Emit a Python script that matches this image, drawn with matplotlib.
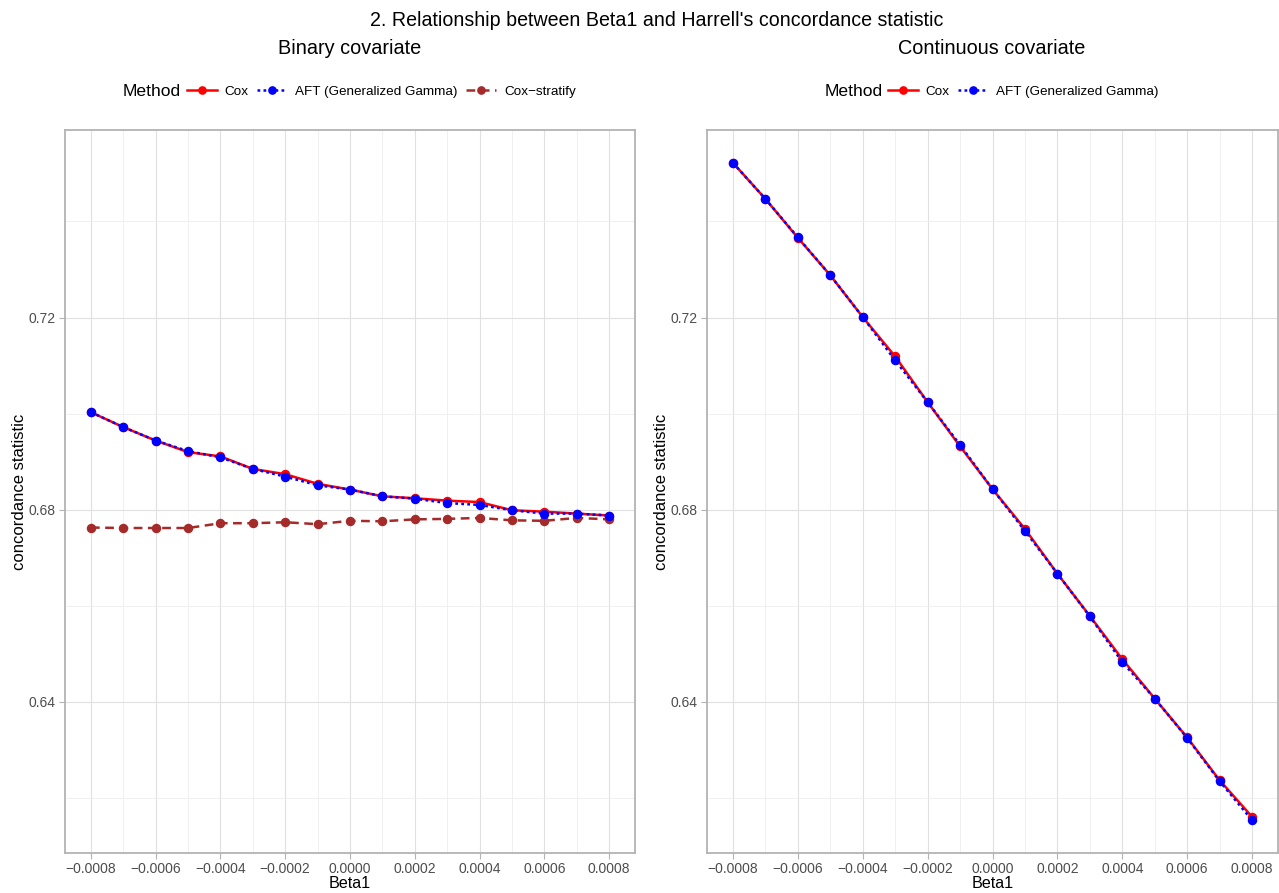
import matplotlib
matplotlib.use("Agg")
import matplotlib.pyplot as plt
from matplotlib.lines import Line2D
import numpy as np

plt.rcParams['font.family'] = ['Liberation Sans', 'DejaVu Sans']

beta1 = [-0.0008, -0.0007, -0.0006, -0.0005, -0.0004, -0.0003, -0.0002, -0.0001,
         0.0, 0.0001, 0.0002, 0.0003, 0.0004, 0.0005, 0.0006, 0.0007, 0.0008]

# Binary covariate
bin_cox = [0.7003, 0.6972, 0.6944, 0.6920, 0.6911, 0.6885, 0.6874, 0.6854,
           0.6842, 0.6828, 0.6824, 0.6819, 0.6816, 0.6799, 0.6796, 0.6792, 0.6788]
bin_aft = [0.7003, 0.6972, 0.6944, 0.6922, 0.6909, 0.6885, 0.6869, 0.6851,
           0.6842, 0.6828, 0.6823, 0.6814, 0.6810, 0.6799, 0.6792, 0.6792, 0.6788]
bin_strat = [0.6763, 0.6762, 0.6762, 0.6762, 0.6772, 0.6772, 0.6774, 0.6770,
             0.6777, 0.6776, 0.6780, 0.6781, 0.6783, 0.6778, 0.6777, 0.6783, 0.6780]

# Continuous covariate
con_cox = [0.7522, 0.7447, 0.7366, 0.7288, 0.7201, 0.7119, 0.7024, 0.6932,
           0.6843, 0.6760, 0.6667, 0.6579, 0.6489, 0.6407, 0.6326, 0.6237, 0.6161]
con_aft = [0.7522, 0.7447, 0.7367, 0.7288, 0.7201, 0.7111, 0.7024, 0.6935,
           0.6843, 0.6756, 0.6667, 0.6578, 0.6483, 0.6407, 0.6325, 0.6235, 0.6154]

xticks = [-0.0008, -0.0006, -0.0004, -0.0002, 0.0, 0.0002, 0.0004, 0.0006, 0.0008]
xticklabels = ["\u22120.0008", "\u22120.0006", "\u22120.0004", "\u22120.0002", "0.0000",
               "0.0002", "0.0004", "0.0006", "0.0008"]
yticks = [0.64, 0.68, 0.72]
yticklabels = ["0.64", "0.68", "0.72"]

W, H = 1279, 893
fig = plt.figure(figsize=(W / 100, H / 100), dpi=100)

def px_axes(x0, x1, y0, y1):
    return fig.add_axes([x0 / W, 1 - y1 / H, (x1 - x0) / W, (y1 - y0) / H])

RED = "#FF0000"
BLUE = "#0000FF"
BROWN = "#A52A2A"
LW = 1.8
MS = 5.8
DOT = (0, (1.1, 1.3))
DASH = (0, (3.5, 2.2))

allvals = bin_cox + bin_aft + bin_strat + con_cox + con_aft
ymin, ymax = min(allvals), max(allvals)
ypad = (ymax - ymin) * 0.05
xpad = (max(beta1) - min(beta1)) * 0.05

def style(ax):
    ax.set_xlim(min(beta1) - xpad, max(beta1) + xpad)
    ax.set_ylim(ymin - ypad, ymax + ypad)
    ax.set_xticks(xticks)
    ax.set_xticklabels(xticklabels)
    ax.set_yticks(yticks)
    ax.set_yticklabels(yticklabels)
    ax.set_xticks(np.arange(-0.0007, 0.00081, 0.0002), minor=True)
    ax.set_yticks([0.62, 0.66, 0.70, 0.74], minor=True)
    ax.grid(which='major', color='#E0E0E0', lw=0.8)
    ax.grid(which='minor', color='#EEEEEE', lw=0.6)
    ax.set_axisbelow(True)
    for s in ax.spines.values():
        s.set_color('#B3B3B3')
        s.set_linewidth(1.3)
    ax.tick_params(which='major', length=4, width=0.8, color='#B3B3B3',
                   labelsize=10, labelcolor='#4D4D4D', pad=2.5)
    ax.tick_params(which='minor', length=0)
    ax.set_xlabel("Beta1", fontsize=11.6, color='black', labelpad=0)
    ax.set_ylabel("concordance statistic", fontsize=12, color='black', labelpad=1)

# Left panel
ax1 = px_axes(65, 635, 130, 853)
style(ax1)
ax1.plot(beta1, bin_cox, color=RED, lw=LW, ls='-', marker='o', ms=MS, zorder=3)
ax1.plot(beta1, bin_aft, color=BLUE, lw=LW, ls=DOT, marker='o', ms=MS, zorder=4)
ax1.plot(beta1, bin_strat, color=BROWN, lw=LW, ls=DASH, marker='o', ms=MS, zorder=3)

# Right panel
ax2 = px_axes(707, 1278, 130, 853)
style(ax2)
ax2.plot(beta1, con_cox, color=RED, lw=LW, ls='-', marker='o', ms=MS, zorder=3)
ax2.plot(beta1, con_aft, color=BLUE, lw=LW, ls=DOT, marker='o', ms=MS, zorder=4)

fig.text(657 / W, 1 - 20 / H, "2. Relationship between Beta1 and Harrell's concordance statistic",
         ha='center', va='center', fontsize=14.1)
fig.text(350 / W, 1 - 49 / H, "Binary covariate", ha='center', va='center', fontsize=14.3)
fig.text(992 / W, 1 - 49 / H, "Continuous covariate", ha='center', va='center', fontsize=14.3)

def make_handles(specs):
    hs = []
    for c, ls in specs:
        hs.append(Line2D([], [], color=c, lw=LW, ls=ls, marker='o', ms=MS * 0.9))
    return hs

def legend(x_method, x_keys, specs, labels):
    fig.text(x_method / W, 1 - 91 / H, "Method", ha='left', va='center', fontsize=12.6)
    leg = fig.legend(make_handles(specs), labels, loc='center left',
                     bbox_to_anchor=(x_keys / W, 1 - 91.5 / H), ncol=len(labels),
                     frameon=False, fontsize=9.7, handlelength=2.2, handletextpad=0.6,
                     columnspacing=0.65, borderpad=0, borderaxespad=0, numpoints=1)
    return leg

legend(123, 187, [(RED, '-'), (BLUE, DOT), (BROWN, DASH)],
       ["Cox", "AFT (Generalized Gamma)", "Cox\u2212stratify"])
legend(825, 888, [(RED, '-'), (BLUE, DOT)],
       ["Cox", "AFT (Generalized Gamma)"])

fig.savefig("out.png", dpi=100)
